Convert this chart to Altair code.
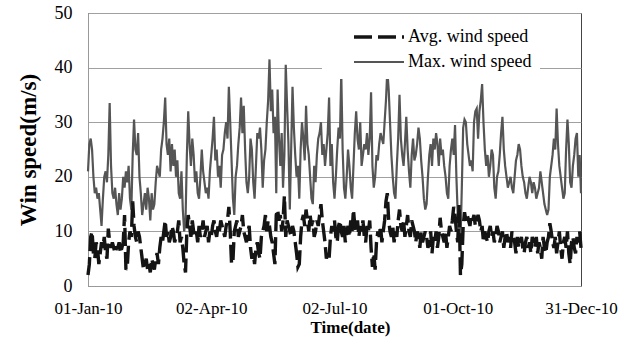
import altair as alt
import pandas as pd

# Daily maximum wind speed (m/s), 01-Jan-2010 .. 31-Dec-2010
max_speed = [
    21, 26, 27, 25, 20, 17, 18, 16, 17, 14,
    11, 16, 20, 21, 19, 24, 33.5, 22, 17, 16,
    18, 15, 13, 17, 14, 16, 20, 18, 21, 19,
    22, 16, 14, 24, 30.5, 25, 24, 28, 20, 17,
    13, 15, 17, 14, 18, 16, 12, 17, 14, 15,
    19, 22, 21, 20, 25, 27, 30, 34.5, 26, 24,
    27, 21, 26, 22, 25, 20, 23, 17, 16, 21,
    14, 10, 12, 24, 32, 26, 22, 27, 24, 19,
    21, 17, 16, 20, 25, 21, 19, 17, 18, 16,
    21, 24, 27, 31, 23, 25, 20, 22, 18, 24,
    25, 28, 30, 27, 36.5, 30, 23, 16, 13, 20,
    22, 26, 29, 34.5, 28, 33, 25, 19, 17, 20,
    27, 25, 19, 16, 22, 28, 27, 29, 25, 18,
    23, 25, 30, 34, 41.5, 32, 36, 28, 31, 17,
    36, 27, 22, 28, 18, 24, 40.5, 33, 26, 14,
    25, 36.5, 29, 24, 20, 22, 16, 25, 30, 27,
    23, 33, 26, 24, 20, 16, 15, 22, 19, 24,
    27, 28, 30, 24, 26, 22, 25, 28, 34.5, 22,
    26, 19, 16, 20, 25, 29, 27, 39, 25, 18,
    16, 20, 25, 22, 18, 16, 22, 28, 32, 27,
    25, 30, 22, 24, 26, 25, 28, 24, 27, 35.5,
    22, 18, 20, 24, 23, 26, 28, 27, 26, 30,
    34, 39.5, 36, 30, 24, 20, 17, 16, 22, 27,
    35, 27, 24, 22, 26, 31, 25, 21, 18, 24,
    27, 23, 24, 26, 29, 27, 23, 20, 16, 14,
    15, 20, 24, 26, 22, 27, 25, 28, 26, 22,
    27, 24, 25, 22, 20, 17, 16, 22, 25, 27,
    24, 29.5, 20, 13, 10, 8, 18, 29, 30.5, 30,
    26, 24, 22, 23, 21, 30, 32, 32.5, 27, 32,
    34, 37, 30, 25, 22, 24, 20, 22, 25, 24,
    18, 16, 20, 21, 24, 28, 31, 25, 22, 20,
    18, 19, 20, 18, 17, 20, 23, 24, 26, 25,
    22, 20, 19, 17, 16, 18, 20, 19, 17, 19,
    18, 16, 17, 18, 21, 19, 17, 15, 14, 13,
    14, 20, 22, 24, 27, 25, 32.5, 26, 22, 20,
    18, 16, 17, 25, 30.5, 26, 19, 18, 22, 24,
    27, 28, 20, 24, 17,
]

# Daily average wind speed (m/s)
avg_speed = [
    2, 4, 9, 10, 6, 5, 8, 7, 4, 6,
    8, 7, 9, 6, 5, 10.5, 8, 7, 8, 7,
    6, 7, 7, 8, 6, 7, 8, 13, 3, 3.5,
    8, 10, 9, 15.5, 11, 9, 8, 10, 9, 7,
    5, 3, 4, 5, 3, 4, 2.5, 5, 4, 3,
    5, 6, 4, 7, 9, 8, 10, 12, 9, 10,
    8, 9, 11, 10, 8, 9, 10, 12, 8, 9,
    7, 4, 2.5, 10, 13, 11, 9, 12, 10, 9,
    10, 8, 11, 9, 10, 12, 9, 10, 11, 8,
    10, 9, 11, 12, 10, 9, 11, 10, 12, 11,
    10, 9, 11, 12, 14.5, 10, 4, 4.5, 10, 11,
    12, 9, 10, 11, 13, 10, 9, 8, 10, 11,
    7, 5, 6, 4, 7, 8, 6, 5, 9, 10,
    11, 13, 10, 12, 11, 9, 8, 6, 4, 13,
    14, 12, 13, 10, 12, 16.5, 9, 12, 11, 10,
    9, 11, 10, 8, 6, 3.5, 4, 9, 12, 13,
    11, 14, 12, 10, 13, 11, 12, 9, 10, 12,
    11, 13, 15, 12, 10, 8, 5, 6, 5, 9,
    11, 10, 12, 9, 8, 11, 12, 10, 9, 11,
    8, 10, 11, 9, 12, 10, 14, 11, 10, 12,
    9, 11, 10, 12, 9, 8, 11, 10, 12, 7,
    3.5, 6, 3, 8, 10, 9, 11, 8, 10, 12,
    15.5, 17, 12, 10, 9, 11, 8, 10, 9, 12,
    14, 11, 10, 12, 9, 11, 13, 10, 9, 12,
    11, 10, 8, 10, 9, 7, 10, 8, 9, 10,
    9, 7, 8, 10, 6, 9, 8, 10, 7, 9,
    12.5, 10, 9, 8, 10, 7, 9, 11, 10, 12,
    14.5, 13, 10, 8, 15, 2, 4, 11, 13.5, 12,
    13, 12, 11, 13, 12, 13, 11, 12, 13, 12,
    10, 11, 8, 10, 9, 8, 10, 11, 9, 10,
    8, 9, 11, 10, 8, 9, 10, 7, 9, 10,
    8, 9, 7, 10, 9, 8, 6, 9, 7, 8,
    9, 7, 6, 8, 9, 7, 8, 6, 9, 8,
    7, 9, 6, 8, 7, 5, 9, 7, 6, 8,
    9, 11.5, 10, 8, 7, 9, 6, 8, 10, 7,
    5, 8, 9, 7, 10, 6, 4, 8, 9, 7,
    6, 9, 8, 10, 7,
]

series_names = ["Avg. wind speed", "Max. wind speed"]
tick_dates = ["2010-01-01", "2010-04-02", "2010-07-02", "2010-10-01", "2010-12-31"]

dates = pd.date_range("2010-01-01", periods=len(max_speed), freq="D").strftime("%Y-%m-%d")
df = pd.concat([
    pd.DataFrame({"date": dates, "speed": avg_speed, "series": series_names[0]}),
    pd.DataFrame({"date": dates, "speed": max_speed, "series": series_names[1]}),
], ignore_index=True)


def dt(s):
    y, m, d = (int(p) for p in s.split("-"))
    return alt.DateTime(year=y, month=m, date=d, utc=True)


FONT = "'Liberation Serif', 'Times New Roman', 'DejaVu Serif', serif"

x = alt.X(
    "date:T",
    scale=alt.Scale(type="utc", domain=[dt(tick_dates[0]), dt(tick_dates[-1])], nice=False),
    axis=alt.Axis(
        values=[dt(t) for t in tick_dates],
        labelExpr="utcFormat(datum.value, '%d-%b-%y')",
        title="Time(date)",
        titleFont=FONT, titleFontSize=17, titleFontWeight="bold", titleColor="black",
        titlePadding=3, titleX=262,
        labelFont=FONT, labelFontSize=17, labelColor="black", labelPadding=14,
        ticks=False, grid=False, domainColor="#999999", labelFlush=False,
    ),
)
y = alt.Y(
    "speed:Q",
    scale=alt.Scale(domain=[0, 50], nice=False),
    axis=alt.Axis(
        values=[0, 10, 20, 30, 40, 50],
        title="Win speed(m/s)",
        titleFont=FONT, titleFontSize=23, titleFontWeight="bold", titleColor="black",
        titlePadding=14,
        labelFont=FONT, labelFontSize=18, labelColor="black", labelPadding=16,
        ticks=False, grid=True, gridColor="#a0a0a0", gridWidth=1,
        domainColor="#999999",
    ),
)
legend_common = dict(title=None, orient="none", legendX=234, legendY=7)
color = alt.Color(
    "series:N",
    scale=alt.Scale(domain=series_names, range=["#141414", "#555555"]),
    legend=alt.Legend(
        **legend_common,
        fillColor="white", padding=8,
        symbolType="M-1,0H9", symbolSize=100, symbolOffset=20,
        labelOffset=40, rowPadding=7,
        labelExpr="datum.label + '   '",
        labelFont=FONT, labelFontSize=18, labelColor="black",
    ),
)
dash = alt.StrokeDash(
    "series:N",
    scale=alt.Scale(domain=series_names, range=[[18, 6], [1, 0]]),
    legend=alt.Legend(**legend_common),
)
width_enc = alt.StrokeWidth(
    "series:N",
    scale=alt.Scale(domain=series_names, range=[3.4, 2.2]),
    legend=alt.Legend(**legend_common),
)

base = alt.Chart(df).mark_line(interpolate="linear").encode(
    x=x, y=y, color=color, strokeDash=dash, strokeWidth=width_enc
)
max_layer = base.transform_filter(alt.datum.series == series_names[1])
avg_layer = base.transform_filter(alt.datum.series == series_names[0])

chart = alt.layer(max_layer, avg_layer).properties(
    width=493, height=273,
    autosize=alt.AutoSizeParams(type="none"),
    padding={"left": 88, "top": 13, "right": 56, "bottom": 67},
    background="white",
).configure_view(stroke="#444444", strokeWidth=1)

chart.save("out.html", embed_options={"renderer": "svg", "actions": False})
